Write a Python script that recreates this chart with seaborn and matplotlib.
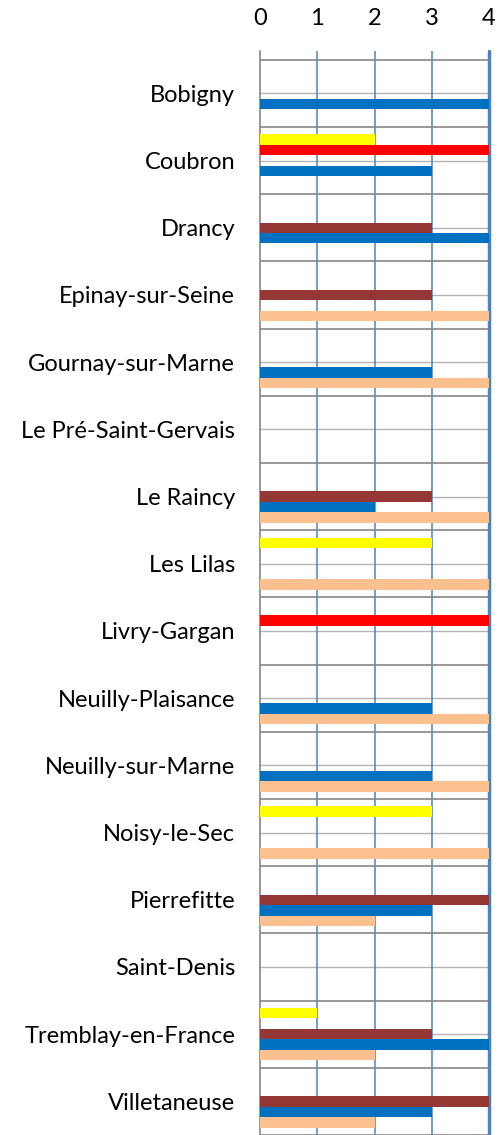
import pandas as pd
import matplotlib.pyplot as plt
import numpy as np
import seaborn as sns

# communes (top to bottom)
communes = ['Bobigny', 'Coubron', 'Drancy', 'Epinay-sur-Seine', 'Gournay-sur-Marne',
            'Le Pré-Saint-Gervais', 'Le Raincy', 'Les Lilas', 'Livry-Gargan',
            'Neuilly-Plaisance', 'Neuilly-sur-Marne', 'Noisy-le-Sec', 'Pierrefitte',
            'Saint-Denis', 'Tremblay-en-France', 'Villetaneuse']

# one list per series, 0 = no bar
serie1 = [0, 2, 0, 0, 0, 0, 0, 3, 0, 0, 0, 3, 0, 0, 1, 0]   # yellow
serie2 = [0, 4, 0, 0, 0, 0, 0, 0, 4, 0, 0, 0, 0, 0, 0, 0]   # red
serie3 = [0, 0, 3, 3, 0, 0, 3, 0, 0, 0, 0, 0, 4, 0, 3, 4]   # dark red
serie4 = [4, 3, 4, 0, 3, 0, 2, 0, 0, 3, 3, 0, 3, 0, 4, 3]   # blue
serie5 = [0, 0, 0, 4, 4, 0, 4, 4, 0, 4, 4, 4, 2, 0, 2, 2]   # peach

series_names = ['Série 1', 'Série 2', 'Série 3', 'Série 4', 'Série 5']
colors = ['#FFFF00', '#FF0000', '#953735', '#0070C0', '#FAC090']
x_ticks = [0, 1, 2, 3, 4]

rows = []
for name, vals in zip(series_names, [serie1, serie2, serie3, serie4, serie5]):
    for c, v in zip(communes, vals):
        rows.append({'commune': c, 'serie': name, 'valeur': v})
df = pd.DataFrame(rows)

sns.set_style('white')
plt.rcParams['font.family'] = ['Lato', 'DejaVu Sans']

fig = plt.figure(figsize=(4.98, 11.35), dpi=100)
ax = fig.add_axes([260 / 498, 0, 229 / 498, 1084 / 1135])

sns.barplot(data=df, x='valeur', y='commune', hue='serie', order=communes,
            hue_order=series_names, palette=colors, orient='h', width=0.78,
            saturation=1, linewidth=0, legend=False, ax=ax, zorder=3)

# light lines at category centres, darker separators between categories
for i in range(len(communes)):
    ax.axhline(i, color='#b4b4b4', lw=1, zorder=1)
for b in np.arange(-0.5, len(communes), 1):
    ax.axhline(b, color='#868686', lw=1.2, zorder=2)

# vertical gridlines
for x in x_ticks[1:-1]:
    ax.axvline(x, color='#4F81BD', lw=1.1, zorder=1)
ax.axvline(4, color='#4F81BD', lw=2.5, zorder=1, clip_on=False)

ax.set_xlim(0, 4)
ax.set_ylim(15.5, -0.63)
ax.xaxis.tick_top()
ax.set_xticks(x_ticks)
ax.set_xticklabels([str(t) for t in x_ticks])
ax.tick_params(axis='x', length=0, pad=16, labelsize=17, colors='black')
ax.tick_params(axis='y', which='major', length=0, pad=18, labelsize=17, colors='black')
ax.set_yticks(np.arange(-0.5, len(communes), 1), minor=True)
ax.tick_params(axis='y', which='minor', length=6, width=1, color='#868686')
ax.set_xlabel('')
ax.set_ylabel('')

for s in ['top', 'right', 'bottom']:
    ax.spines[s].set_visible(False)
ax.spines['left'].set_color('#868686')
ax.spines['left'].set_linewidth(1.2)

plt.savefig('out.png', dpi=100)
